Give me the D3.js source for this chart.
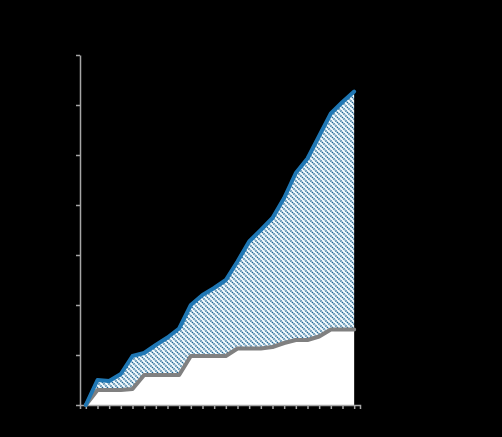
<!DOCTYPE html>
<meta charset="utf-8">
<script src="https://d3js.org/d3.v7.min.js"></script>
<style>
  body { margin: 0; background: #000; }
</style>
<div id="chart"></div>
<script>
// data
const years = d3.range(1990, 2014).map(String);
const upper = [0, 50, 48, 62, 98, 104, 120, 135, 153, 200, 220, 234, 250, 287, 327, 350, 374, 414, 464, 493, 538, 583, 606, 627];
const lower = [0, 30, 30, 30, 32, 60, 60, 60, 60, 98, 98, 98, 98, 113, 113, 113, 116, 124, 130, 130, 137, 151, 151, 151];
const yTicks = [0, 100, 200, 300, 400, 500, 600, 700];

const W = 502, H = 437;
const margin = {top: 55, right: 142, bottom: 32, left: 80};
const width = W - margin.left - margin.right,
      height = H - margin.top - margin.bottom;

const svg = d3.select("#chart").append("svg")
    .attr("width", W)
    .attr("height", H)
    .style("background", "#000");

// hatch pattern for the gap between the two lines
const defs = svg.append("defs");
const pat = defs.append("pattern")
    .attr("id", "hatch")
    .attr("patternUnits", "userSpaceOnUse")
    .attr("width", 5)
    .attr("height", 5);
pat.append("rect").attr("width", 5).attr("height", 5).attr("fill", "#f2fafd");
pat.append("path")
    .attr("d", "M-1,-1 L6,6 M-1,4 L1,6 M4,-1 L6,1")
    .attr("stroke", "#1f6593")
    .attr("stroke-width", 1.6)
    .attr("stroke-dasharray", "1.4,0.7");

const g = svg.append("g")
    .attr("transform", `translate(${margin.left},${margin.top})`);

const x = d3.scalePoint()
    .domain(years)
    .range([0, width])
    .padding(0.5);

const y = d3.scaleLinear()
    .domain([0, 700])
    .range([height, 0]);

const rows = years.map((d, i) => ({year: d, hi: upper[i], lo: lower[i]}));

// white area below the grey line
g.append("path")
    .datum(rows)
    .attr("fill", "#fff")
    .attr("d", d3.area()
        .x(d => x(d.year))
        .y0(y(0))
        .y1(d => y(d.lo)));

// hatched band between the lines
g.append("path")
    .datum(rows)
    .attr("fill", "url(#hatch)")
    .attr("d", d3.area()
        .x(d => x(d.year))
        .y0(d => y(d.lo))
        .y1(d => y(d.hi)));

// axes
const yAxis = g.append("g")
    .call(d3.axisLeft(y).tickValues(yTicks).tickSize(4).tickSizeOuter(0));
const xAxis = g.append("g")
    .attr("transform", `translate(0,${height})`)
    .call(d3.axisBottom(x).tickSize(4).tickSizeOuter(4));

[yAxis, xAxis].forEach(a => {
  a.selectAll("path, line").attr("stroke", "#a6a6a6").attr("stroke-width", 1.5);
  a.selectAll("text").attr("fill", "#000").style("font-family", "Liberation Sans, Arial, sans-serif").attr("font-size", 9);
});
xAxis.selectAll("text")
    .attr("text-anchor", "end")
    .attr("transform", "rotate(-45)")
    .attr("dx", "-0.4em").attr("dy", "0.5em");

// lines
g.append("path")
    .datum(rows)
    .attr("fill", "none")
    .attr("stroke", "#808080")
    .attr("stroke-width", 4)
    .attr("stroke-linejoin", "round")
    .attr("stroke-linecap", "round")
    .attr("d", d3.line().x(d => x(d.year)).y(d => y(d.lo)));

g.append("path")
    .datum(rows)
    .attr("fill", "none")
    .attr("stroke", "#1f77b4")
    .attr("stroke-width", 4)
    .attr("stroke-linejoin", "round")
    .attr("stroke-linecap", "round")
    .attr("d", d3.line().x(d => x(d.year)).y(d => y(d.hi)));
</script>
